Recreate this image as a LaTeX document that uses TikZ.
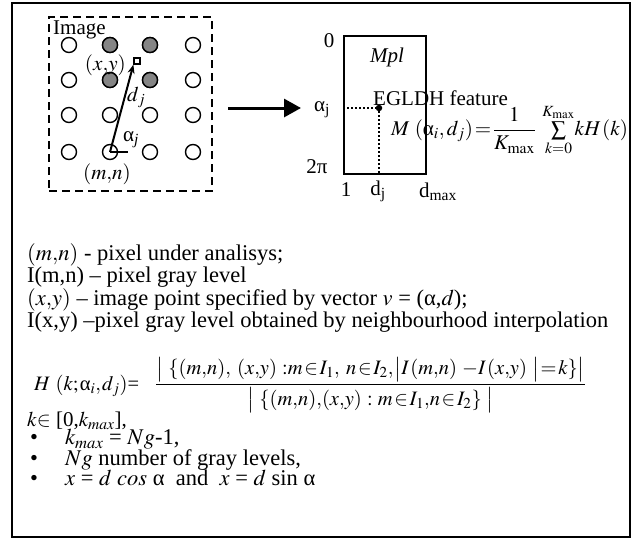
\documentclass[tikz,border=0pt]{standalone}
\usepackage{amsmath}
\usepackage{mathptmx}
\usepackage[no-math]{fontspec}
\setmainfont{Liberation Serif}
\usetikzlibrary{positioning, arrows.meta, calc}
\definecolor{dotgray}{HTML}{858585}
\newcommand{\tightmath}{\thinmuskip=1mu\medmuskip=1mu\thickmuskip=1.5mu}

\begin{document}
\begin{tikzpicture}[x=1pt, y=-1pt,
    every node/.style={inner sep=0pt, font=\fontsize{21}{20}\selectfont},
    pix/.style={circle, draw, line width=1.4pt, minimum size=15pt, fill=white},
    pixg/.style={pix, fill=dotgray},
    imgbox/.style={draw, line width=2.4pt, dash pattern=on 8pt off 5pt,
                   minimum width=163pt, minimum height=174pt},
    plane/.style={draw, line width=2pt, minimum width=82pt, minimum height=138pt},
    txt/.style={align=left, font=\fontsize{22.5}{20.5}\selectfont}]
  \useasboundingbox (0,0) rectangle (638,539);
  \node[draw, line width=1.3pt, minimum width=618pt, minimum height=534pt] (frame) at (321,270) {};

  % image with pixel grid
  \node[imgbox] (img) at (130.5,104) {};
  \node[anchor=west] (imglabel) at (53,30) {Image};
  \foreach \r/\y in {1/45, 2/80, 3/115, 4/152}
    \foreach \c/\x in {1/69, 2/110, 3/150, 4/193}
      \node[pix] (c-\r-\c) at (\x,\y) {};
  \foreach \r/\c in {1/2, 1/3, 2/2, 2/3}
    \node[pixg] at (c-\r-\c) {};
  \node[draw, line width=1.2pt, fill=white, minimum size=6pt] (xy) at (137,61) {};
  \node[anchor=east] (xylabel) at (126,65) {$(x{,}y)$};
  \coordinate (angEnd) at (128,152);
  \draw[line width=1.3pt] (c-4-2.center) -- (angEnd);
  \draw[line width=2pt, -{Stealth[length=9pt, width=7pt]}] (c-4-2.center) -- (xy.south west);
  \node[anchor=west] (dlabel) at (127,97) {$d_j$};
  \node[anchor=west] (alabel) at (123,140) {α\textsubscript{\textit{j}}};
  \node (mnlabel) at (107,174) {$(m{,}n)$};

  % mapping arrow
  \coordinate (arrS) at (228,108);
  \coordinate (arrE) at (301,108);
  \draw[line width=3pt, -{Triangle[length=17pt, width=18pt]}] (arrS) -- (arrE);

  % feature plane
  \node[plane] (mpl) at (385,105) {};
  \node (mpltxt) at (387,57) {\textit{Mpl}};
  \node (top0) at (329,41) {0};
  \node (topa) at (322,110) {α\textsubscript{j}};
  \node (bot2pi) at (317,167) {2π};
  \node (d1) at (346,190) {1};
  \node (ddj) at (378,191) {d\textsubscript{j}};
  \node (ddmax) at (438,192) {d\textsubscript{max}};
  \node[circle, fill, minimum size=6.5pt] (feat) at (379,108) {};
  \draw[line width=2pt, dotted] (mpl.west |- feat) -- (feat);
  \draw[line width=2pt, dotted] (feat) -- (feat |- mpl.south);
  \node[anchor=west] (egldh) at (373,98) {EGLDH feature};
  \node[anchor=west] (mform) at (391,130)
    {\tightmath$M\ (\text{α}_i,\,d_j) = \dfrac{1}{K_{\max}}\ \sum\limits_{k=0}^{K_{\max}}\! kH\,(k)$};

  % definitions
  \node[txt, anchor=north west] (legend) at (27,243)
    {$(m{,}n)$ - pixel under analisys;\\
     I(m,n) – pixel gray level\\
     $(x{,}y)$ – image point specified by vector $v$ = (α,$d$);\\
     I(x,y) –pixel gray level obtained by neighbourhood interpolation};
  \node[anchor=base west, font=\fontsize{20.5}{20}\selectfont] (hdef) at (34,390)
    {\tightmath$H\ (k;\text{α}_i,d_j)$=\hspace{16pt}%
     $\dfrac{\bigl|\ \{(m{,}n),\ (x{,}y)\ {:}m\in I_1,\ n\in I_2,\bigl|I\,(m{,}n)\ {-}I\,(x{,}y)\ \bigr|= k\}\bigr|}
            {\bigl|\ \{(m{,}n){,}(x{,}y)\ {:}\ m\in I_1{,}n\in I_2\}\ \bigr|}$};
  \node[anchor=west] (krange) at (27,421) {$k{\in}$ [0,$k_{max}$],};
  \node[txt, anchor=north west] (conds) at (30,429)
    {\makebox[35pt][l]{•}$k_{max}$ = $Ng$-1,\\
     \makebox[35pt][l]{•}$Ng$ number of gray levels,\\
     \makebox[35pt][l]{•}$x$ = $d$ $cos$ α\ \ and\ \ $x$ = $d$ sin α};
\end{tikzpicture}
\end{document}
